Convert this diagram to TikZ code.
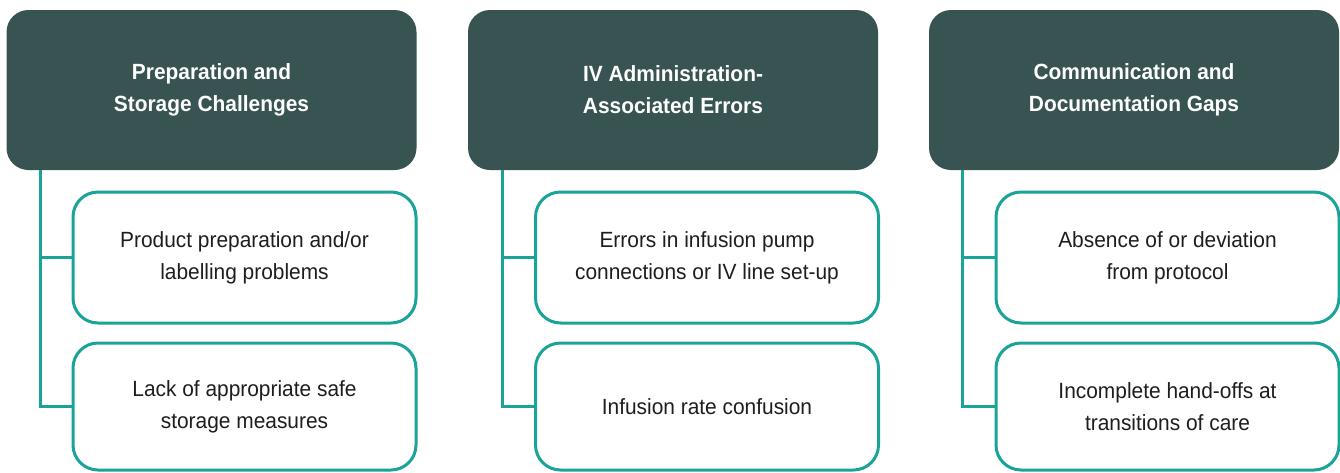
\documentclass[tikz,border=0pt]{standalone}
\usepackage{fontspec}
\setmainfont{Liberation Sans}[FakeStretch=0.95]
\definecolor{hdrfill}{HTML}{375452}
\definecolor{tealline}{HTML}{1AA398}
\definecolor{txt}{HTML}{1E1E1E}
\begin{document}
\begin{tikzpicture}[x=1pt,y=-1pt,
  hdrbox/.style={fill=hdrfill, rounded corners=22pt, minimum width=410pt, minimum height=160pt,
    inner sep=0pt, text=white, align=center, font=\bfseries\fontsize{22}{32}\selectfont},
  itembox/.style={draw=tealline, line width=3pt, fill=white, rounded corners=25pt, minimum width=343pt,
    inner sep=0pt, text=txt, align=center, font=\fontsize{22}{32}\selectfont},
  conn/.style={draw=tealline, line width=3pt}]
\useasboundingbox (0,0) rectangle (1340,472);

% column 1
\node[hdrbox] (h1) at (211.5,90) {Preparation and\\Storage Challenges};
\node[itembox, minimum height=131pt] (c11) at (244.5,257.5) {Product preparation and/or\\labelling problems};
\node[itembox, minimum height=127pt] (c12) at (244.5,406.5) {Lack of appropriate safe\\storage measures};
\coordinate (t1) at ([xshift=34pt]h1.south west);
\draw[conn] (t1) |- (c11.west);
\draw[conn] (t1) |- (c12.west);

% column 2
\node[hdrbox] (h2) at (673,90) {IV Administration-\\Associated Errors};
\node[itembox, minimum height=131pt] (c21) at (707,257.5) {Errors in infusion pump\\connections or IV line set-up};
\node[itembox, minimum height=127pt] (c22) at (707,406.5) {Infusion rate confusion};
\coordinate (t2) at ([xshift=35pt]h2.south west);
\draw[conn] (t2) |- (c21.west);
\draw[conn] (t2) |- (c22.west);

% column 3
\node[hdrbox] (h3) at (1134,90) {Communication and\\Documentation Gaps};
\node[itembox, minimum height=131pt] (c31) at (1167.5,257.5) {Absence of or deviation\\from protocol};
\node[itembox, minimum height=127pt] (c32) at (1167.5,406.5) {Incomplete hand-offs at\\transitions of care};
\coordinate (t3) at ([xshift=34pt]h3.south west);
\draw[conn] (t3) |- (c31.west);
\draw[conn] (t3) |- (c32.west);
\end{tikzpicture}
\end{document}
